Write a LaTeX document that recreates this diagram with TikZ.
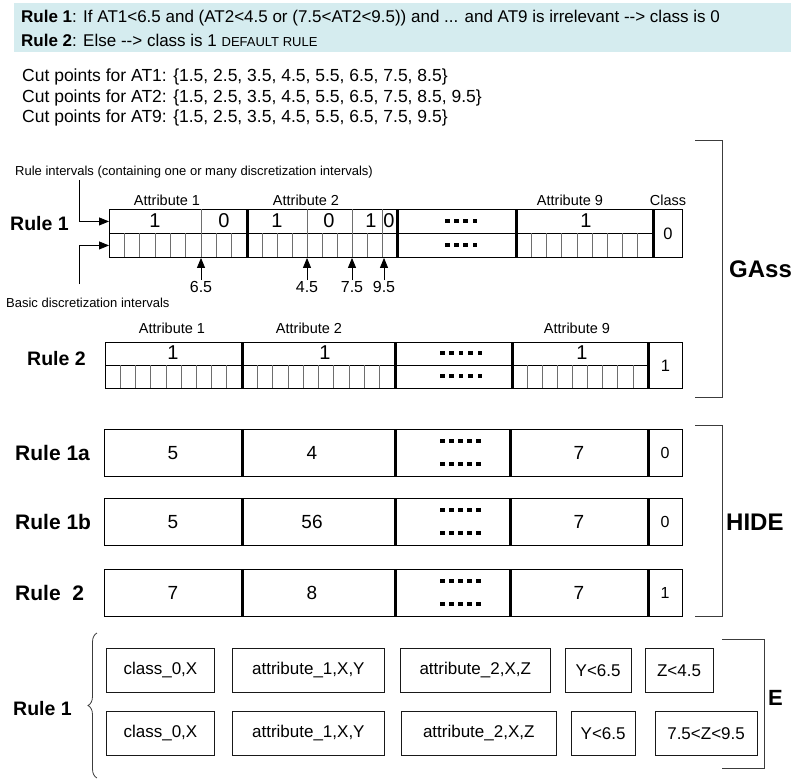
\documentclass[tikz,border=0pt]{standalone}
\usepackage{fontspec}
\setmainfont{Liberation Sans}
\usepackage{tikz}
\usetikzlibrary{arrows.meta, positioning, calc, decorations.pathreplacing}
\definecolor{hdrcyan}{RGB}{213,236,239}
\definecolor{mydark}{RGB}{25,25,25}
\definecolor{mygrid}{RGB}{110,110,110}
\definecolor{mybrace}{RGB}{60,60,60}
\tikzset{
  hdr/.style={anchor=west, inner sep=0pt, font=\fontsize{17}{20}\selectfont},
  cuttxt/.style={anchor=west, inner sep=0pt, font=\fontsize{17.5}{20}\selectfont},
  small/.style={anchor=west, inner sep=0pt, font=\fontsize{13}{15}\selectfont},
  attr/.style={inner sep=0pt, font=\fontsize{14.5}{17}\selectfont},
  val/.style={inner sep=0pt, font=\fontsize{20}{22}\selectfont},
  hval/.style={inner sep=0pt, font=\fontsize{19}{22}\selectfont},
  clsval/.style={inner sep=0pt, font=\fontsize{16.5}{18}\selectfont},
  cutlbl/.style={inner sep=1pt, font=\fontsize{16}{18}\selectfont},
  rulelbl/.style={anchor=west, inner sep=0pt, font=\fontsize{19.5}{22}\selectfont\bfseries},
  method/.style={anchor=west, inner sep=0pt, font=\fontsize{24}{26}\selectfont\bfseries},
  row/.style={rectangle, draw=black, line width=0.9pt, inner sep=0pt, anchor=north west},
  ecl/.style={rectangle, draw=mydark, line width=0.9pt, inner sep=0pt,
    minimum height=44pt, font=\fontsize{17}{19}\selectfont},
  cell/.style={draw=mygrid, line width=0.7pt},
  sep/.style={draw=black, line width=3pt},
  arrow/.style={-{Triangle[length=10pt, width=8pt]}, line width=0.8pt, color=black},
  bracket/.style={draw=mybrace, line width=1pt}
}

\begin{document}
\begin{tikzpicture}[x=1pt, y=-1pt]
  \useasboundingbox (0,0) rectangle (791,779);
  % header and cut points
  \fill[hdrcyan] (14,3) rectangle (791,52);
  \node[hdr] (hdr1) at (21,18) {\textbf{Rule 1}: If AT1<6.5 and (AT2<4.5 or (7.5<AT2<9.5)) and ... and AT9 is irrelevant -\kern0pt-> class is 0};
  \node[hdr] (hdr2) at (21,40) {\textbf{Rule 2}: Else -\kern0pt-> class is 1 {\fontsize{13}{15}\selectfont DEFAULT RULE}};
  \node[cuttxt] (cut1) at (22,77) {Cut points for AT1: \{1.5, 2.5, 3.5, 4.5, 5.5, 6.5, 7.5, 8.5\}};
  \node[cuttxt] (cut2) at (22,98) {Cut points for AT2: \{1.5, 2.5, 3.5, 4.5, 5.5, 6.5, 7.5, 8.5, 9.5\}};
  \node[cuttxt] (cut9) at (22,118) {Cut points for AT9: \{1.5, 2.5, 3.5, 4.5, 5.5, 6.5, 7.5, 9.5\}};

  % GAssist rule 1
  \node[small] (ri) at (15,172) {Rule intervals (containing one or many discretization intervals)};
  \node[small] (bd) at (6,303) {Basic discretization intervals};
  \node[rulelbl] (g1lbl) at (10,224) {Rule 1};
  \node[attr] (g1a1) at (167,200) {Attribute 1};
  \node[attr] (g1a2) at (306,200) {Attribute 2};
  \node[attr] (g1a9) at (570,200) {Attribute 9};
  \node[attr] (g1cl) at (668,200) {Class};
  \node[row, minimum width=544, minimum height=24] (g1top) at (109,209) {};
  \node[row, minimum width=544, minimum height=24] (g1bot) at (109,233) {};
  \node[row, minimum width=29, minimum height=48, clsval] (g1cls) at (653,209) {0};
  \foreach \k in {1,...,8} \draw[cell] ({109+\k*15.33},233) -- ++(0,24);
  \foreach \k in {1,...,9} \draw[cell] ({247+\k*15},233) -- ++(0,24);
  \foreach \k in {1,...,8} \draw[cell] ({516+\k*15.22},233) -- ++(0,24);
  \foreach \x in {201,307,352,382} \draw[cell] (\x,209) -- ++(0,24);
  \foreach \x in {247,397,516,653} \draw[sep] (\x,209) -- (\x,257);
  \foreach \x/\v in {155/1, 224/0, 277/1, 329/0, 371/1, 389/0, 586/1}
    \node[val] at (\x,221) {\v};
  \foreach \k in {0,...,3} {
    \fill ({447.25+\k*9.17-2.25},218.75) rectangle ++(4.5,4.5);
    \fill ({447.25+\k*9.17-2.25},242.75) rectangle ++(4.5,4.5);
  }
  \coordinate (riA) at (79,180);
  \coordinate (bdA) at (79,284);
  \draw[arrow] (riA) |- (g1top.west);
  \draw[arrow] (bdA) |- (g1bot.west);
  \foreach \x/\t [count=\i] in {201/6.5, 307/4.5, 352/7.5, 384/9.5} {
    \node[cutlbl] (cv\i) at (\x,287) {\t};
    \draw[arrow] (cv\i.north) -- (cv\i.north |- g1bot.south);
  }

  % GAssist rule 2
  \node[rulelbl] (g2lbl) at (27,359) {Rule 2};
  \node[attr] (g2a1) at (172,328) {Attribute 1};
  \node[attr] (g2a2) at (309,328) {Attribute 2};
  \node[attr] (g2a9) at (577,328) {Attribute 9};
  \node[row, minimum width=543, minimum height=23] (g2top) at (105,342) {};
  \node[row, minimum width=543, minimum height=23] (g2bot) at (105,365) {};
  \node[row, minimum width=34, minimum height=46, clsval] (g2cls) at (648,342) {1};
  \foreach \k in {1,...,8} \draw[cell] ({105+\k*15.22},365) -- ++(0,23);
  \foreach \k in {1,...,9} \draw[cell] ({242+\k*15.3},365) -- ++(0,23);
  \foreach \k in {1,...,8} \draw[cell] ({512+\k*15.11},365) -- ++(0,23);
  \foreach \x in {242,395,512,648} \draw[sep] (\x,342) -- (\x,388);
  \foreach \x in {173,325,582} \node[val] at (\x,353) {1};
  \foreach \k in {0,...,4} {
    \fill ({442.25+\k*9.38-2.25},350.75) rectangle ++(4.5,4.5);
    \fill ({442.25+\k*9.38-2.25},373.75) rectangle ++(4.5,4.5);
  }
  \draw[bracket] (695,140) -- (722,140) -- (722,397) -- (695,397);
  \node[method] (gass) at (729,269) {GAss};

  % HIDER
  \foreach \y/\n/\lbl/\va/\vb/\vc/\vd in {429/h1a/{Rule 1a}/5/4/7/0, 498/h1b/{Rule 1b}/5/56/7/0, 569/h2/{Rule\ \ 2}/7/8/7/1} {
    \node[row, minimum width=578, minimum height=47] (\n) at (104,\y) {};
    \node[rulelbl, font=\fontsize{21}{24}\selectfont\bfseries] (\n lbl) at (15,{\y+23.5}) {\lbl};
    \foreach \x in {242,395,510,648} \draw[sep] (\x,\y) -- ++(0,47);
    \node[hval] at (173,{\y+24}) {\va};
    \node[hval] at (312,{\y+24}) {\vb};
    \node[hval] at (579,{\y+24}) {\vc};
    \node[clsval, font=\fontsize{16}{18}\selectfont] at (665,{\y+24}) {\vd};
    \foreach \k in {0,...,4} {
      \fill ({442.25+\k*9.12-2.25},{\y+12-2.25}) rectangle ++(4.5,4.5);
      \fill ({442.25+\k*9.12-2.25},{\y+35-2.25}) rectangle ++(4.5,4.5);
    }
  }
  \draw[bracket] (695,425) -- (722,425) -- (722,616) -- (695,616);
  \node[method] (hide) at (726,522) {HIDE};

  % ECL
  \node[ecl, minimum width=108, anchor=north west] (e1a) at (106,648) {class\_0,X};
  \node[ecl, minimum width=152, right=17pt of e1a] (e1b) {attribute\_1,X,Y};
  \node[ecl, minimum width=150, right=15pt of e1b] (e1c) {attribute\_2,X,Z};
  \node[ecl, minimum width=66, right=14pt of e1c] (e1d) {Y<6.5};
  \node[ecl, minimum width=68, right=13pt of e1d] (e1e) {Z<4.5};
  \node[ecl, minimum width=108, anchor=north west] (e2a) at (106,711) {class\_0,X};
  \node[ecl, minimum width=152, right=17pt of e2a] (e2b) {attribute\_1,X,Y};
  \node[ecl, minimum width=155, right=16pt of e2b] (e2c) {attribute\_2,X,Z};
  \node[ecl, minimum width=64, right=14pt of e2c] (e2d) {Y<6.5};
  \node[ecl, minimum width=102, right=19pt of e2d] (e2e) {7.5<Z<9.5};
  \node[rulelbl] (elbl) at (13,709) {Rule 1};
  \draw[mybrace, line width=0.8pt, decorate, decoration={brace, amplitude=9pt}] (97,778) -- (97,633);
  \draw[bracket] (722,639) -- (764,639) -- (764,768) -- (722,768);
  \node[method, font=\fontsize{22}{24}\selectfont\bfseries] (ecl) at (768,698) {E};
\end{tikzpicture}
\end{document}
